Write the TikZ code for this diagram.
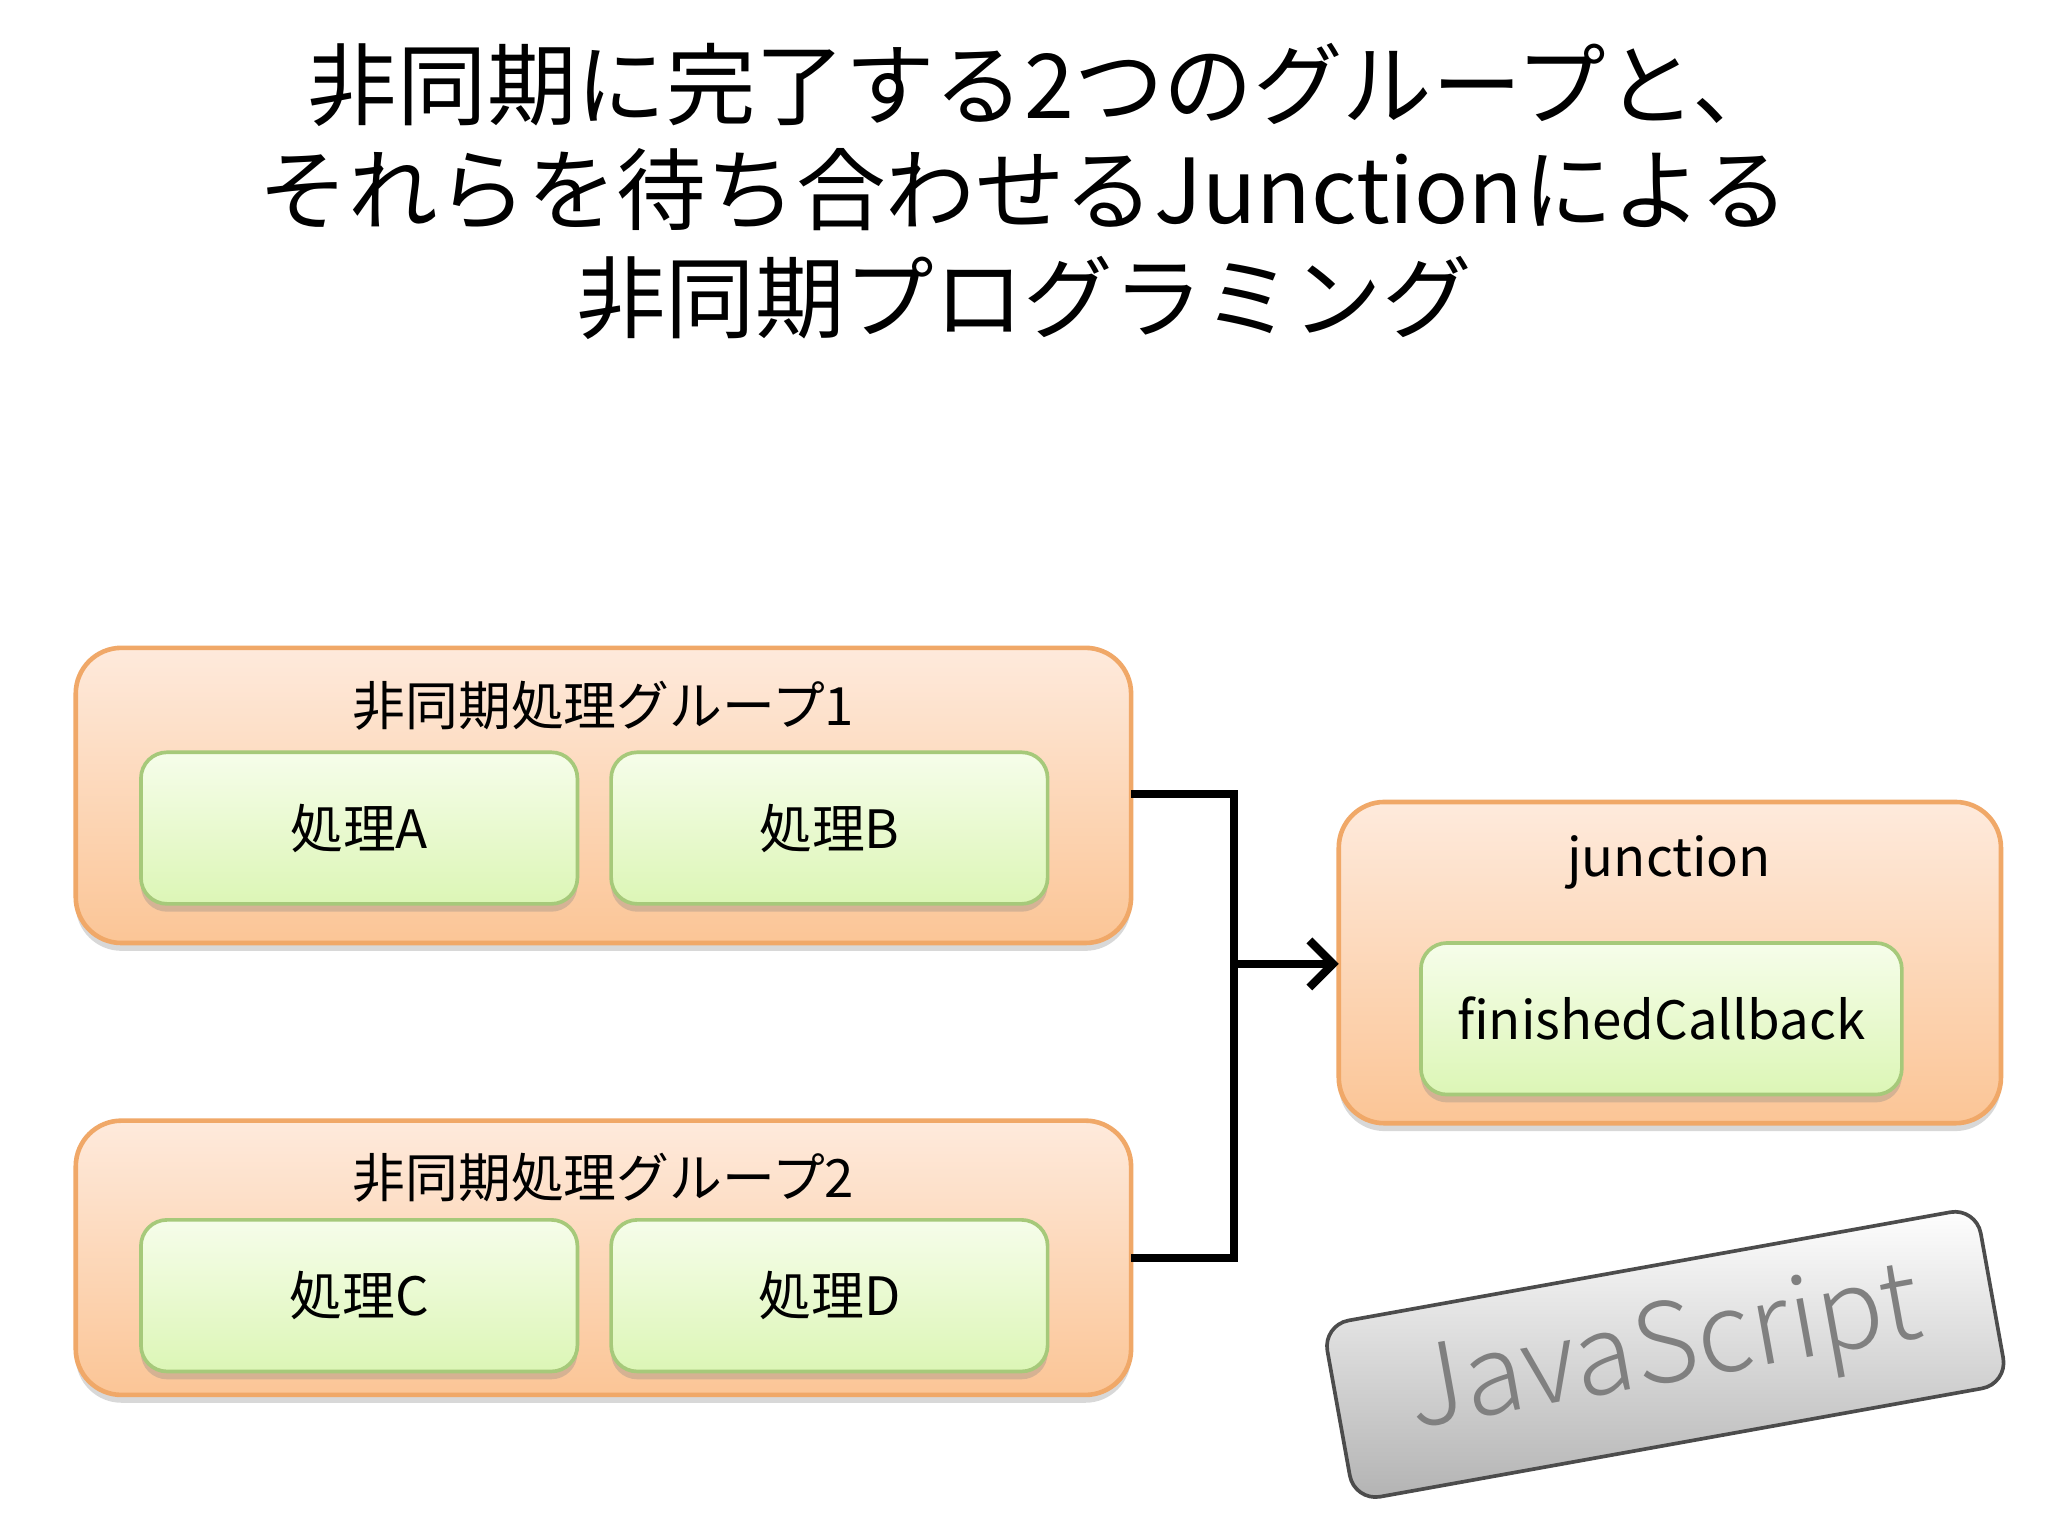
\documentclass[tikz,border=0pt]{standalone}
\usepackage{fontspec}
\setmainfont{Noto Sans CJK JP}
\newfontfamily\thinfont{Noto Sans CJK JP Light}
\usetikzlibrary{shadows,arrows.meta}
\definecolor{grpT}{HTML}{FEEADC}
\definecolor{grpB}{HTML}{FBC596}
\definecolor{grpD}{HTML}{F0A868}
\definecolor{boxT}{HTML}{F6FDEA}
\definecolor{boxB}{HTML}{DCF6B6}
\definecolor{boxD}{HTML}{A6C97A}
\begin{document}
\begin{tikzpicture}[x=0.01cm,y=-0.01cm,
 grp/.style={draw=grpD,line width=1pt,rounded corners=0.35cm,top color=grpT,bottom color=grpB,
   drop shadow={shadow xshift=0pt,shadow yshift=-0.06cm,opacity=0.3}},
 box/.style={draw=boxD,line width=0.8pt,rounded corners=0.2cm,top color=boxT,bottom color=boxB,
   drop shadow={shadow xshift=0pt,shadow yshift=-0.06cm,opacity=0.3}},
 lbl/.style={font=\fontsize{11.5pt}{13pt}\selectfont},
 conn/.style={line width=1.8pt},
 ttl/.style={font=\fontsize{19.5pt}{23pt}\selectfont}]
\useasboundingbox (0,0) rectangle (1568,1176);
\fill[white] (0,0) rectangle (1568,1176);
\node[ttl] (t1) at (800,65) {非同期に完了する2つのグループと、};
\node[ttl] (t2) at (784,145) {それらを待ち合わせるJunctionによる};
\node[ttl] (t3) at (784,228) {非同期プログラミング};
% groups
\draw[grp] (58,496) rectangle (866,722);
\node[lbl] (g1) at (462,540) {非同期処理グループ1};
\node[box,lbl,minimum width=3.34cm,minimum height=1.16cm] (a) at (275,634) {処理A};
\node[box,lbl,minimum width=3.34cm,minimum height=1.16cm] (b) at (635,634) {処理B};
\draw[grp] (58,858) rectangle (866,1068);
\node[lbl] (g2) at (462,902) {非同期処理グループ2};
\node[box,lbl,minimum width=3.34cm,minimum height=1.16cm] (c) at (275,992) {処理C};
\node[box,lbl,minimum width=3.34cm,minimum height=1.16cm] (d) at (635,992) {処理D};
\draw[grp] (1025,614) rectangle (1532,860);
\node[lbl] (j) at (1278,660) {junction};
\node[box,lbl,minimum width=3.68cm,minimum height=1.16cm] (f) at (1272,780) {finishedCallback};
% connectors
\coordinate (o1) at (866,608);
\coordinate (o2) at (866,963);
\coordinate (m) at (945,738);
\coordinate (jin) at (1025,738);
\draw[conn] (o1) -- (945,608) -- (945,963) -- (o2);
\draw[conn,-{Straight Barb[length=0.18cm,width=0.36cm]}] (m) -- (jin);
% JavaScript stamp
\node[draw=black!70,line width=0.8pt,rounded corners=0.2cm,top color=white,bottom color=black!30,
  minimum width=5.08cm,minimum height=1.37cm,rotate=10.2,
  font=\thinfont\fontsize{24pt}{26pt}\selectfont,text=black!50] (js) at (1275,1037) {JavaScript};
\end{tikzpicture}
\end{document}
